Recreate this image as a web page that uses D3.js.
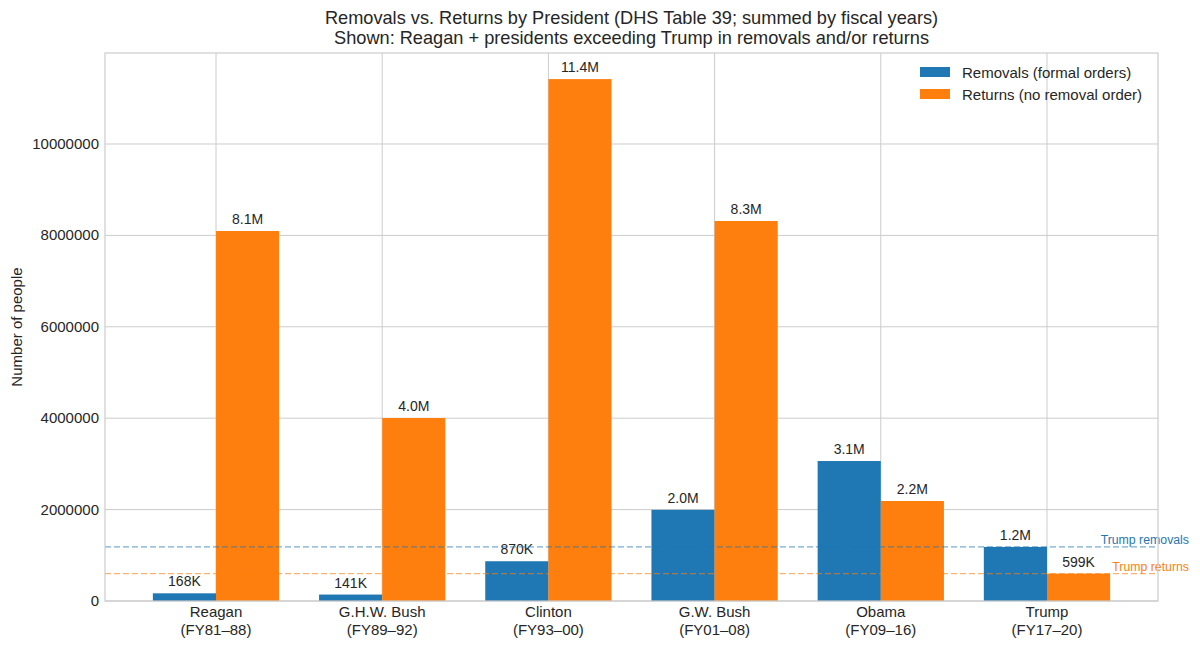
<!DOCTYPE html>
<html>
<head>
<script src="https://d3js.org/d3.v7.min.js"></script>
<style>
  body { margin: 0; background: #fff; }
  text { font-family: "Liberation Sans", Arial, sans-serif; fill: #262626; }
</style>
</head>
<body>
<svg width="1200" height="648"></svg>
<script>
// data
const presidents = ["Reagan", "G.H.W. Bush", "Clinton", "G.W. Bush", "Obama", "Trump"];
const terms = ["(FY81\u201388)", "(FY89\u201392)", "(FY93\u201300)", "(FY01\u201308)", "(FY09\u201316)", "(FY17\u201320)"];
const removals = [168000, 141000, 870000, 1995000, 3063000, 1183000];
const returns = [8096000, 4004000, 11420000, 8315000, 2188000, 599000];
const yTicks = [0, 2000000, 4000000, 6000000, 8000000, 10000000];

const blue = "#1f77b4", orange = "#ff7f0e";
const pLeft = 105, pRight = 1158, pTop = 53, pBottom = 601;
const svg = d3.select("svg");

const x = d3.scaleLinear().domain([-0.668, 5.668]).range([pLeft, pRight]);
const y = d3.scaleLinear().domain([0, 11991000]).range([pBottom, pTop]);
const barW = 0.38;

function fmt(v) {
  return v >= 1e6 ? (v / 1e6).toFixed(1) + "M" : Math.round(v / 1000) + "K";
}

// grid
svg.append("g").selectAll("line").data(yTicks).join("line")
  .attr("x1", pLeft).attr("x2", pRight)
  .attr("y1", d => y(d)).attr("y2", d => y(d))
  .attr("stroke", "#cccccc").attr("stroke-width", 1);
svg.append("g").selectAll("line").data(presidents).join("line")
  .attr("x1", (d, i) => x(i)).attr("x2", (d, i) => x(i))
  .attr("y1", pTop).attr("y2", pBottom)
  .attr("stroke", "#cccccc").attr("stroke-width", 1);

// bars
const series = [
  { vals: removals, color: blue, off: -barW / 2 },
  { vals: returns, color: orange, off: barW / 2 }
];
series.forEach(s => {
  svg.append("g").selectAll("rect").data(s.vals).join("rect")
    .attr("x", (d, i) => x(i + s.off - barW / 2))
    .attr("width", x(barW) - x(0))
    .attr("y", d => y(d))
    .attr("height", d => y(0) - y(d))
    .attr("fill", s.color);
  svg.append("g").selectAll("text").data(s.vals).join("text")
    .attr("x", (d, i) => x(i + s.off))
    .attr("y", d => y(d) - 7)
    .attr("text-anchor", "middle")
    .style("font-size", "14px")
    .text(d => fmt(d));
});

// Trump reference lines
const refs = [
  { v: removals[5], color: blue, label: "Trump removals" },
  { v: returns[5], color: orange, label: "Trump returns" }
];
refs.forEach(r => {
  svg.append("line")
    .attr("x1", pLeft).attr("x2", pRight)
    .attr("y1", y(r.v)).attr("y2", y(r.v))
    .attr("stroke", r.color).attr("stroke-opacity", 0.6)
    .attr("stroke-width", 1.3).attr("stroke-dasharray", "6,3");
  svg.append("text")
    .attr("x", 1189).attr("y", y(r.v) - 3)
    .attr("text-anchor", "end")
    .style("font-size", "12.3px")
    .style("fill", r.color)
    .text(r.label);
});

// frame
svg.append("rect")
  .attr("x", pLeft).attr("y", pTop)
  .attr("width", pRight - pLeft).attr("height", pBottom - pTop)
  .attr("fill", "none").attr("stroke", "#cccccc").attr("stroke-width", 1.2);

// y ticks
svg.append("g").selectAll("text").data(yTicks).join("text")
  .attr("x", pLeft - 6).attr("y", d => y(d) + 5)
  .attr("text-anchor", "end")
  .style("font-size", "15px")
  .text(d => d);

// x ticks
const xl = svg.append("g").selectAll("text").data(presidents).join("text")
  .attr("text-anchor", "middle")
  .style("font-size", "15px");
xl.append("tspan").attr("x", (d, i) => x(i)).attr("y", 617).text(d => d);
xl.append("tspan").attr("x", (d, i) => x(i)).attr("y", 635).text((d, i) => terms[i]);

// y label
svg.append("text")
  .attr("transform", "translate(22," + ((pTop + pBottom) / 2) + ") rotate(-90)")
  .attr("text-anchor", "middle")
  .style("font-size", "15px")
  .text("Number of people");

// title
svg.append("text").attr("x", (pLeft + pRight) / 2).attr("y", 24)
  .attr("text-anchor", "middle").style("font-size", "18.2px")
  .text("Removals vs. Returns by President (DHS Table 39; summed by fiscal years)");
svg.append("text").attr("x", (pLeft + pRight) / 2).attr("y", 44)
  .attr("text-anchor", "middle").style("font-size", "18.2px")
  .text("Shown: Reagan + presidents exceeding Trump in removals and/or returns");

// legend
const legend = svg.append("g").attr("transform", "translate(920,67)");
[["Removals (formal orders)", blue], ["Returns (no removal order)", orange]].forEach((d, i) => {
  legend.append("rect").attr("x", 0).attr("y", i * 22).attr("width", 30).attr("height", 10).attr("fill", d[1]);
  legend.append("text").attr("x", 42).attr("y", i * 22 + 11).style("font-size", "15px").text(d[0]);
});
</script>
</body>
</html>
